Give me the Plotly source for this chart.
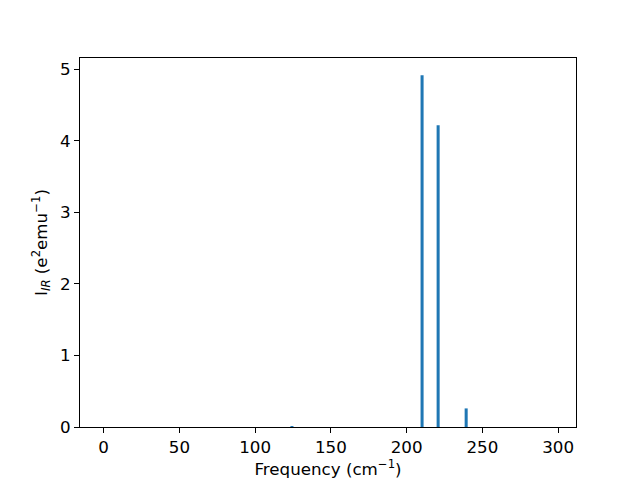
import plotly.graph_objects as go

frequencies = [124.3, 210.2, 220.8, 239.3]
intensities = [0.012, 4.92, 4.22, 0.26]
x_ticks = [0, 50, 100, 150, 200, 250, 300]
y_ticks = [0, 1, 2, 3, 4, 5]

FS = 16.7

fig = go.Figure()
fig.add_trace(go.Bar(x=frequencies, y=intensities, width=2.0,
                     marker=dict(color="#1f77b4", line=dict(width=0))))

axis_common = dict(showline=True, linecolor="black", linewidth=1, mirror=True,
                   ticks="outside", ticklen=5, tickwidth=1, tickcolor="black",
                   showgrid=False, zeroline=False, automargin=False,
                   tickfont=dict(family="DejaVu Sans", size=FS, color="black"))

fig.update_layout(
    width=640, height=480,
    margin=dict(l=80, r=64, t=58, b=53),
    paper_bgcolor="white", plot_bgcolor="white",
    showlegend=False,
    font=dict(family="DejaVu Sans", size=FS, color="black"),
    xaxis=dict(range=[-15.6, 311.8], tickvals=x_ticks,
               title=dict(text="Frequency (cm<sup>−1</sup>)", standoff=4,
                          font=dict(family="DejaVu Sans", size=FS)),
               **axis_common),
    yaxis=dict(range=[0, 5.16], tickvals=y_ticks,
               title=dict(text="I<sub><i>IR</i></sub> (e<sup>2</sup>emu<sup>−1</sup>)", standoff=8,
                          font=dict(family="DejaVu Sans", size=FS)),
               **axis_common),
)

fig.write_html("out.html", config={"displayModeBar": False},
               post_script="document.body.style.margin='0';document.body.style.padding='0';")
